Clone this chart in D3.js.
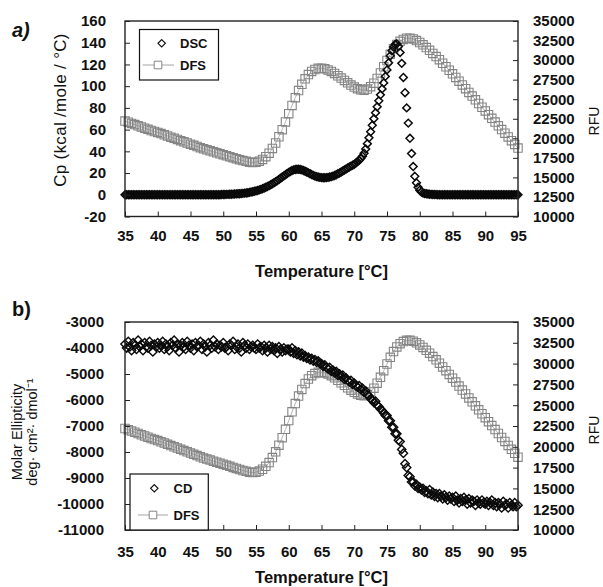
<!DOCTYPE html>
<html><head><meta charset="utf-8">
<script src="https://cdn.jsdelivr.net/npm/d3@7"></script>
<style>
body{margin:0;background:#fff}
svg{display:block}
.tick text{font-family:"Liberation Sans",Arial,sans-serif;font-weight:bold;font-size:15px;fill:#111}
</style>
</head><body>
<svg id="chart" width="603" height="587"></svg>
<script>
// ---------- tick labels ----------
const tempTicks = [35,40,45,50,55,60,65,70,75,80,85,90,95];
const cpTicks = [-20,0,20,40,60,80,100,120,140,160];
const rfuTicks = [10000,12500,15000,17500,20000,22500,25000,27500,30000,32500,35000];
const ellTicks = [-11000,-10000,-9000,-8000,-7000,-6000,-5000,-4000,-3000];

// ---------- series (temperature grid: start + i*step) ----------
const dscStart = 35, dscStep = 0.25;   // Cp (kcal/mole/°C)
const dsc = [
  0,0,0,0,0,0,0,0,0,0,0,0,0,0,0,0,0,0,0,0,
  0,0,0,0,0,0,0,0,0,0,0,0,0,0,0,0,0,0,0,0,
  0,0,0,0,0,0,0,0,0,0,0,0,0,0,0,0,0,0,0.1,0.2,
  0.3,0.3,0.4,0.4,0.5,0.5,0.6,0.7,0.8,0.9,1.0,1.1,1.3,1.5,1.7,1.9,2.2,2.5,2.8,3.2,
  3.6,4.0,4.5,5.0,5.6,6.2,6.9,7.6,8.4,9.2,10.1,11.0,12.0,13.0,14.1,15.2,16.3,17.4,18.5,19.6,
  20.6,21.5,22.3,22.9,23.3,23.5,23.5,23.3,22.9,22.4,21.7,21.0,20.2,19.4,18.6,17.9,17.2,16.7,16.3,16.0,
  15.8,15.7,15.7,15.8,16.0,16.3,16.7,17.2,17.8,18.5,19.3,20.1,21.0,21.9,22.8,23.7,24.6,25.5,26.4,27.2,
  28.0,29.2,30.5,31.8,33.3,35.5,38.3,42.2,47.0,52.5,58.0,64.0,70.0,75.5,81.0,86.5,92.0,97.5,103.0,109.0,
  115,121.5,128,132.5,136,138.5,139,136.5,131,121,108,94,80,66,52,38,26,17,11,7,
  4.2,2.6,1.7,1.2,0.9,0.7,0.5,0.4,0.3,0.2,0.2,0.1,0,0,0,0,0,0,0,0,
  0,0,0,0,0,0,0,0,0,0,0,0,0,0,0,0,0,0,0,0,
  0,0,0,0,0,0,0,0,0,0,0,0,0,0,0,0,0,0,0,0,
  0
];

const dfsStart = 35, dfsStep = 0.5;   // RFU
const dfs = [
  22200,22050,21900,21750,21600,21450,21300,21150,21000,20870,
  20750,20600,20450,20300,20150,20000,19850,19700,19550,19400,
  19250,19100,18950,18800,18650,18520,18400,18270,18150,18020,
  17900,17770,17650,17520,17400,17270,17150,17050,16950,16900,
  16950,17080,17300,17650,18100,18700,19400,20200,21100,22100,
  23150,24200,25200,26100,26900,27600,28150,28550,28800,28950,
  28950,28880,28750,28550,28300,28000,27700,27400,27100,26800,
  26550,26350,26200,26150,26300,26600,27050,27650,28350,29150,
  29950,30750,31450,32000,32400,32650,32800,32800,32700,32500,
  32250,31950,31600,31250,30850,30450,30050,29600,29150,28700,
  28250,27780,27300,26820,26350,25870,25400,24920,24450,23970,
  23500,23020,22550,22070,21600,21120,20650,20170,19700,19220,
  18750
];

const cdStart = 35, cdStep = 0.25;   // Molar ellipticity
const cd = [
  -3850,-4000,-3750,-3950,-4100,-3800,-3900,-4050,-3700,-3950,-3850,-4100,-3800,-3950,-4000,-3750,-3900,-4150,-3850,-3950,
  -3800,-4000,-3900,-3750,-4050,-3850,-3950,-4100,-3800,-3900,-3700,-4000,-3850,-4150,-3900,-3800,-3950,-4050,-3750,-3900,
  -4000,-3850,-4100,-3800,-3950,-3900,-3750,-4050,-3850,-3950,-4150,-3800,-3900,-4000,-3700,-3950,-3850,-4050,-3900,-3950,
  -3800,-4000,-3950,-4100,-3850,-3900,-3750,-4050,-3950,-3850,-4000,-4150,-3800,-3900,-4000,-3850,-4050,-3950,-3900,-4000,
  -4050,-3850,-4000,-3950,-4100,-3900,-4000,-4150,-3900,-4050,-3950,-4100,-4000,-4200,-3950,-4050,-4150,-4000,-4100,-4050,
  -4050,-4150,-4000,-4200,-4100,-4250,-4150,-4300,-4200,-4350,-4300,-4400,-4350,-4450,-4400,-4500,-4450,-4550,-4500,-4600,
  -4600,-4700,-4650,-4750,-4800,-4750,-4900,-4850,-4950,-4900,-5050,-5000,-5100,-5050,-5200,-5150,-5250,-5300,-5250,-5400,
  -5350,-5450,-5500,-5450,-5600,-5550,-5700,-5650,-5800,-5850,-5950,-6000,-6100,-6050,-6200,-6250,-6350,-6400,-6500,-6600,
  -6600,-6800,-6800,-7050,-7050,-7300,-7300,-7550,-7600,-7900,-8050,-8450,-8600,-8900,-8950,-9150,-9150,-9300,-9250,-9400,
  -9350,-9450,-9400,-9550,-9500,-9600,-9450,-9650,-9550,-9700,-9600,-9750,-9600,-9700,-9800,-9650,-9750,-9850,-9700,-9800,
  -9750,-9900,-9700,-9850,-9950,-9800,-9900,-9750,-9850,-10000,-9800,-9950,-9850,-9900,-10050,-9850,-9950,-10000,-9850,-9950,
  -10000,-9900,-10050,-9950,-9850,-10050,-9950,-10100,-9950,-10000,-10150,-9900,-10050,-10000,-10150,-9950,-10050,-10100,-9950,-10100,
  -10050
];

// ---------- drawing ----------
const svg = d3.select("#chart");
const FONT = '"Liberation Sans",Arial,sans-serif';
const diamond = r => `M0,${-r}L${r},0L0,${r}L${-r},0Z`;
const square = s => `M${-s},${-s}H${s}V${s}H${-s}Z`;
const DFS_STROKE = "#858585";
const plain = d => String(d);

const x = d3.scaleLinear().domain([35,95]).range([125,518]);

function panel(cfg){
  const g = svg.append("g");
  const yL = d3.scaleLinear().domain(cfg.leftDomain).range([cfg.bottom, cfg.top]);
  const yR = d3.scaleLinear().domain([10000,35000]).range([cfg.bottom, cfg.top]);

  // DFS line + squares
  const dfsPts = dfs.map((v,i)=>[dfsStart+i*dfsStep, v]);
  g.append("path").datum(dfsPts)
    .attr("fill","none").attr("stroke","#a0a0a0").attr("stroke-width",0.8)
    .attr("d", d3.line().x(d=>x(d[0])).y(d=>yR(d[1])));
  g.append("g").selectAll("path").data(dfsPts).join("path")
    .attr("transform", d=>`translate(${x(d[0])},${yR(d[1])})`)
    .attr("d", square(4.2)).attr("fill","none")
    .attr("stroke", DFS_STROKE).attr("stroke-width",1.1);

  // black diamonds
  const pts = cfg.series.map((v,i)=>[cfg.start+i*cfg.step, v]);
  g.append("g").selectAll("path").data(pts).join("path")
    .attr("transform", d=>`translate(${x(d[0])},${yL(d[1])})`)
    .attr("d", diamond(cfg.dr)).attr("fill","none")
    .attr("stroke","#0a0a0a").attr("stroke-width",cfg.dw);

  // axes
  const ax = g.append("g").attr("transform",`translate(0,${cfg.bottom})`)
    .call(d3.axisBottom(x).tickValues(tempTicks).tickSize(-5).tickPadding(cfg.xPad).tickFormat(plain));
  const ay = g.append("g").attr("transform",`translate(125,0)`)
    .call(d3.axisLeft(yL).tickValues(cfg.leftTicks).tickSize(-5).tickPadding(cfg.yPad).tickFormat(plain));
  const ar = g.append("g").attr("transform",`translate(518,0)`)
    .call(d3.axisRight(yR).tickValues(rfuTicks).tickSize(-5).tickPadding(15).tickFormat(plain));
  [ax,ay,ar].forEach(a=>{
    a.select(".domain").remove();
    a.selectAll(".tick line").attr("stroke","#222").attr("stroke-width",1);
  });

  // frame
  g.append("rect").attr("x",125).attr("y",cfg.top).attr("width",393).attr("height",cfg.bottom-cfg.top)
    .attr("fill","none").attr("stroke","#222").attr("stroke-width",1.4);

  // legend
  const L = cfg.legend;
  g.append("rect").attr("x",L.x).attr("y",L.y).attr("width",L.w).attr("height",L.h)
    .attr("fill","#fff").attr("stroke","#111").attr("stroke-width",1.2);
  g.append("path").attr("transform",`translate(${L.m1x},${L.r1})`).attr("d",diamond(3.7))
    .attr("fill","none").attr("stroke","#111").attr("stroke-width",1.2);
  g.append("line").attr("x1",L.l0).attr("x2",L.l1).attr("y1",L.r2).attr("y2",L.r2)
    .attr("stroke","#999").attr("stroke-width",0.9);
  g.append("path").attr("transform",`translate(${L.m2x},${L.r2})`).attr("d",square(3.8))
    .attr("fill","#fff").attr("stroke",DFS_STROKE).attr("stroke-width",1);
  [[cfg.names[0],L.r1],[cfg.names[1],L.r2]].forEach(([t,yy])=>{
    g.append("text").attr("x",L.tx).attr("y",yy+4.7).text(t)
      .attr("font-family",FONT).attr("font-weight","bold").attr("font-size",13).attr("fill","#111");
  });

  // x title
  g.append("text").attr("x",321.5).attr("y",cfg.titleY).attr("text-anchor","middle")
    .attr("font-family",FONT).attr("font-weight","bold").attr("font-size",16.5).attr("fill","#111")
    .text("Temperature [°C]");
  // RFU
  g.append("text").attr("transform",`translate(599,${cfg.rfuY}) rotate(-90)`).attr("text-anchor","middle")
    .attr("font-family",FONT).attr("font-size",14).attr("fill","#111").text("RFU");
  return g;
}

panel({
  top:21, bottom:216.5, leftDomain:[-20,160], leftTicks:cpTicks,
  series:dsc, start:dscStart, step:dscStep, dr:3.9, dw:1.5, xPad:13.5, yPad:19, titleY:277, rfuY:121,
  names:["DSC","DFS"],
  legend:{x:139.5,y:29.5,w:79,h:50.5,m1x:161.7,r1:43.3,l0:142.7,l1:174,m2x:158,r2:65,tx:180}
});
panel({
  top:322, bottom:530, leftDomain:[-11000,-3000], leftTicks:ellTicks,
  series:cd, start:cdStart, step:cdStep, dr:4.2, dw:1.4, xPad:16.5, yPad:21, titleY:583, rfuY:430,
  names:["CD","DFS"],
  legend:{x:130,y:474,w:78.3,h:56,m1x:154.3,r1:488.3,l0:138,l1:168,m2x:153,r2:515,tx:173.5}
});

// panel letters
svg.append("text").attr("x",12).attr("y",37).text("a)")
  .attr("font-family",FONT).attr("font-weight","bold").attr("font-style","italic").attr("font-size",20).attr("fill","#111");
svg.append("text").attr("x",12).attr("y",316).text("b)")
  .attr("font-family",FONT).attr("font-weight","bold").attr("font-size",20).attr("fill","#111");

// y titles
svg.append("text").attr("transform","translate(66,110) rotate(-90)").attr("text-anchor","middle")
  .attr("font-family",FONT).attr("font-size",17).attr("letter-spacing",0.3).attr("fill","#111")
  .text("Cp (kcal /mole / °C)");
const yt = svg.append("text").attr("transform","translate(0,432) rotate(-90)").attr("text-anchor","middle")
  .attr("font-family",FONT).attr("font-size",14.5).attr("fill","#111");
yt.append("tspan").attr("x",0).attr("y",22).text("Molar Ellipticity");
yt.append("tspan").attr("x",0).attr("y",37).text("deg· cm²· dmol⁻¹");
</script>
</body></html>
